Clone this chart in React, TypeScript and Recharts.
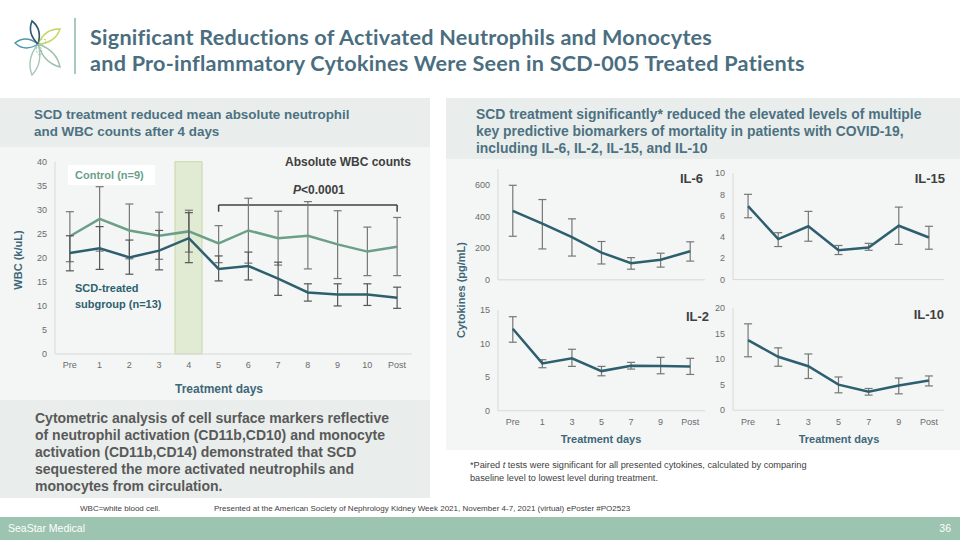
import React from "react";
import {
  ComposedChart,
  LineChart,
  Line,
  Bar,
  XAxis,
  YAxis,
  ErrorBar,
  ReferenceLine,
} from "recharts";

// WBC counts, control vs SCD-treated subgroup
const wbcDays = ["Pre", "1", "2", "3", "4", "5", "6", "7", "8", "9", "10", "Post"];
const controlMean = [24.5, 28.1, 25.7, 24.6, 25.5, 23.0, 25.7, 24.1, 24.6, 22.8, 21.3, 22.3];
const controlLow = [19.2, 21.4, 19.8, 19.7, 21.2, 19.0, 18.9, 18.5, 17.7, 15.7, 16.3, 16.3];
const controlHigh = [29.6, 34.8, 31.2, 29.5, 29.9, 26.7, 32.4, 29.7, 31.7, 29.8, 26.4, 28.4];
const scdMean = [21.0, 22.0, 20.1, 21.5, 24.1, 17.7, 18.3, 15.7, 12.8, 12.4, 12.4, 11.7];
const scdLow = [17.3, 17.6, 16.6, 17.5, 19.0, 15.2, 15.4, 12.2, 11.0, 10.0, 10.1, 9.5];
const scdHigh = [24.6, 26.5, 23.7, 25.7, 29.4, 20.4, 21.2, 19.1, 14.6, 14.6, 14.6, 13.9];
const wbcTicks = [0, 5, 10, 15, 20, 25, 30, 35, 40];
const highlightDay = "4";
const bracketFrom = "5";
const bracketTo = "Post";
const bracketY = 31;
const bracketFoot = 29.6;

// cytokines, SCD-treated patients
const cytoDays = ["Pre", "1", "3", "5", "7", "9", "Post"];
const il6Mean = [435, 355, 270, 172, 105, 127, 180];
const il6Low = [275, 195, 150, 100, 67, 80, 118];
const il6High = [597, 507, 385, 242, 140, 168, 240];
const il15Mean = [6.9, 3.8, 5.0, 2.75, 3.0, 5.05, 3.95];
const il15Low = [5.8, 3.1, 3.6, 2.35, 2.75, 3.3, 2.85];
const il15High = [8.0, 4.4, 6.4, 3.2, 3.4, 6.8, 5.0];
const il2Mean = [12.2, 7.05, 7.8, 5.9, 6.7, 6.65, 6.6];
const il2Low = [10.2, 6.4, 6.6, 5.2, 6.2, 5.5, 5.4];
const il2High = [14.0, 7.6, 9.15, 6.6, 7.2, 7.95, 7.8];
const il10Mean = [13.7, 10.45, 8.6, 5.0, 3.6, 4.85, 5.8];
const il10Low = [10.45, 8.6, 6.2, 3.4, 2.95, 3.2, 4.75];
const il10High = [16.9, 12.2, 11.0, 6.5, 4.25, 6.3, 6.7];

const INK = {
  title: "#4a6e7f",
  header: "#4d7182",
  body: "#595959",
  dark: "#404040",
  axisTitle: "#3f6777",
  control: "#6c9f88",
  scd: "#2e5f6f",
  err: "#777777",
  axis: "#d9d9d9",
  tick: "#6b6b6b",
  band: "#e9eeec",
  panel: "#f3f6f5",
  footer: "#9dc3b1",
};

const sans = "'Liberation Sans', Arial, sans-serif";

const wbcMax = wbcTicks[wbcTicks.length - 1];
const wbcData = wbcDays.map((day, i) => ({
  day,
  control: controlMean[i],
  controlErr: [controlMean[i] - controlLow[i], controlHigh[i] - controlMean[i]],
  scd: scdMean[i],
  scdErr: [scdMean[i] - scdLow[i], scdHigh[i] - scdMean[i]],
  highlight: day === highlightDay ? wbcMax : null,
}));

function cytoRows(mean: number[], low: number[], high: number[]) {
  return cytoDays.map((day, i) => ({
    day,
    v: mean[i],
    err: [mean[i] - low[i], high[i] - mean[i]],
  }));
}

type CytoProps = {
  rows: ReturnType<typeof cytoRows>;
  left: number;
  top: number;
  right: number;
  bottom: number;
  max: number;
  ticks: number[];
  showX: boolean;
};

function CytoChart({ rows, left, top, right, bottom, max, ticks, showX }: CytoProps) {
  const padL = 40;
  const padT = 6;
  const padR = 6;
  const xh = showX ? 24 : 12;
  const pad = (right - left) / 14;
  return (
    <div style={{ position: "absolute", left: left - padL, top: top - padT }}>
      <LineChart
        width={right - left + padL + padR}
        height={bottom - top + padT + xh}
        data={rows}
        margin={{ top: padT, right: padR, left: 10, bottom: 0 }}
      >
        <XAxis
          dataKey="day"
          interval={0}
          padding={{ left: pad, right: pad }}
          tickLine={false}
          axisLine={{ stroke: INK.axis }}
          tick={showX ? { fontSize: 9, fill: INK.tick, fontFamily: sans } : false}
          height={xh}
        />
        <YAxis
          domain={[0, max]}
          ticks={ticks}
          interval={0}
          width={30}
          tickLine={false}
          axisLine={{ stroke: INK.axis }}
          tick={{ fontSize: 9, fill: INK.tick, fontFamily: sans }}
        />
        <Line
          dataKey="v"
          stroke={INK.scd}
          strokeWidth={2.5}
          dot={false}
          isAnimationActive={false}
        >
          <ErrorBar dataKey="err" width={4} stroke={INK.err} strokeWidth={1.2} />
        </Line>
      </LineChart>
    </div>
  );
}

function Text({ x, y, children, style }: { x: number; y: number; children: React.ReactNode; style?: React.CSSProperties }) {
  return (
    <div style={{ position: "absolute", left: x, top: y, whiteSpace: "nowrap", ...style }}>
      {children}
    </div>
  );
}

function petal(cx: number, cy: number, tx: number, ty: number, w: number) {
  const dx = tx - cx;
  const dy = ty - cy;
  const len = Math.hypot(dx, dy);
  const nx = (-dy / len) * w;
  const ny = (dx / len) * w;
  const mx = cx + dx * 0.55;
  const my = cy + dy * 0.55;
  return `M${cx},${cy} Q${mx + nx},${my + ny} ${tx},${ty} Q${mx - nx},${my - ny} ${cx},${cy} Z`;
}

function Logo() {
  const cx = 38;
  const cy = 44;
  return (
    <svg width={70} height={80} style={{ position: "absolute", left: 0, top: 0 }}>
      <path d={petal(cx, cy, 60, 29, 9)} fill="none" stroke="#c3d55c" strokeWidth={1.4} />
      <path d={petal(cx, cy, 60, 67, 9)} fill="none" stroke="#9dbfae" strokeWidth={1.4} />
      <path d={petal(cx, cy, 32, 75, 9)} fill="none" stroke="#a6c6b8" strokeWidth={1.4} />
      <path d={petal(cx, cy, 15, 43, 9)} fill="none" stroke="#4f98a9" strokeWidth={1.4} />
      <path d={petal(cx, cy, 32, 21, 8)} fill="none" stroke="#2e5b70" strokeWidth={1.6} />
      <path d={petal(cx, cy, 46, 40, 5)} fill="none" stroke="#b7cf63" strokeWidth={1} strokeDasharray="2 1.5" />
      <path d={petal(cx, cy, 40, 56, 5)} fill="none" stroke="#9dbfae" strokeWidth={1} strokeDasharray="2 1.5" />
    </svg>
  );
}

export default function App() {
  const headStyle: React.CSSProperties = {
    fontFamily: sans,
    fontWeight: 700,
    fontSize: 13.9,
    lineHeight: "17px",
    color: INK.header,
  };
  const titleStyle: React.CSSProperties = {
    fontFamily: "Lato, 'Open Sans', sans-serif",
    fontWeight: 700,
    fontSize: 21.6,
    letterSpacing: 0.25,
    lineHeight: "26px",
    color: INK.title,
  };
  return (
    <div
      style={{
        position: "absolute",
        left: 0,
        top: 0,
        width: 960,
        height: 540,
        overflow: "hidden",
        background: "#ffffff",
        fontFamily: sans,
      }}
    >
      <Logo />
      <div style={{ position: "absolute", left: 74, top: 18, width: 1.5, height: 56, background: "#a9c9bb" }} />
      <Text x={90} y={24} style={titleStyle}>
        Significant Reductions of Activated Neutrophils and Monocytes
      </Text>
      <Text x={90} y={50} style={titleStyle}>
        and Pro-inflammatory Cytokines Were Seen in SCD-005 Treated Patients
      </Text>

      {/* left panel */}
      <div style={{ position: "absolute", left: 0, top: 98, width: 430, height: 49, background: INK.band }} />
      <div style={{ position: "absolute", left: 0, top: 147, width: 430, height: 253, background: INK.panel }} />
      <div style={{ position: "absolute", left: 0, top: 400, width: 430, height: 98, background: INK.band }} />
      <Text x={34} y={105.5} style={{ ...headStyle, fontSize: 13.4 }}>
        SCD treatment reduced mean absolute neutrophil
        <br />
        and WBC counts after 4 days
      </Text>

      <div style={{ position: "absolute", left: 0, top: 145 }}>
        <ComposedChart
          width={432}
          height={255}
          data={wbcData}
          margin={{ top: 16.7, right: 20, left: 25, bottom: 10 }}
        >
          <XAxis
            dataKey="day"
            interval={0}
            tickLine={false}
            axisLine={{ stroke: INK.axis }}
            tick={{ fontSize: 9, fill: INK.tick, fontFamily: sans }}
            height={36}
          />
          <YAxis
            domain={[0, wbcMax]}
            ticks={wbcTicks}
            interval={0}
            width={30}
            tickLine={false}
            axisLine={{ stroke: INK.axis }}
            tick={{ fontSize: 9, fill: INK.tick, fontFamily: sans }}
          />
          <Bar
            dataKey="highlight"
            barSize={27}
            fill="#e1ead3"
            stroke="#c6d8a8"
            isAnimationActive={false}
          />
          <ReferenceLine
            segment={[{ x: bracketFrom, y: bracketY }, { x: bracketTo, y: bracketY }]}
            stroke={INK.dark}
            strokeWidth={1.5}
          />
          <ReferenceLine
            segment={[{ x: bracketFrom, y: bracketY }, { x: bracketFrom, y: bracketFoot }]}
            stroke={INK.dark}
            strokeWidth={1.5}
          />
          <ReferenceLine
            segment={[{ x: bracketTo, y: bracketY }, { x: bracketTo, y: bracketFoot }]}
            stroke={INK.dark}
            strokeWidth={1.5}
          />
          <Line
            dataKey="control"
            stroke={INK.control}
            strokeWidth={2.5}
            dot={false}
            isAnimationActive={false}
          >
            <ErrorBar dataKey="controlErr" width={4} stroke={INK.err} strokeWidth={1.2} />
          </Line>
          <Line
            dataKey="scd"
            stroke={INK.scd}
            strokeWidth={2.5}
            dot={false}
            isAnimationActive={false}
          >
            <ErrorBar dataKey="scdErr" width={4} stroke="#555555" strokeWidth={1.2} />
          </Line>
        </ComposedChart>
      </div>

      <div style={{ position: "absolute", left: 68, top: 165, width: 87, height: 20, background: "#ffffff" }} />
      <Text x={75} y={168} style={{ fontWeight: 700, fontSize: 11, lineHeight: "14px", color: INK.control }}>
        Control (n=9)
      </Text>
      <Text x={75} y={280} style={{ fontWeight: 700, fontSize: 11, lineHeight: "16px", color: INK.scd }}>
        SCD-treated
        <br />
        subgroup (n=13)
      </Text>
      <Text x={285} y={155} style={{ fontWeight: 700, fontSize: 12, lineHeight: "14px", color: INK.dark }}>
        Absolute WBC counts
      </Text>
      <Text x={293} y={183} style={{ fontWeight: 700, fontSize: 12, lineHeight: "14px", color: INK.dark }}>
        <i>P</i>&lt;0.0001
      </Text>
      <Text
        x={18}
        y={260}
        style={{ fontWeight: 700, fontSize: 11, color: INK.axisTitle, transform: "translate(-50%, -50%) rotate(-90deg)" }}
      >
        WBC (k/uL)
      </Text>
      <Text x={219} y={389} style={{ fontWeight: 700, fontSize: 12, color: INK.axisTitle, transform: "translate(-50%, -50%)" }}>
        Treatment days
      </Text>

      <Text x={35} y={409.5} style={{ ...headStyle, fontSize: 14, color: INK.body }}>
        Cytometric analysis of cell surface markers reflective
        <br />
        of neutrophil activation (CD11b,CD10) and monocyte
        <br />
        activation (CD11b,CD14) demonstrated that SCD
        <br />
        sequestered the more activated neutrophils and
        <br />
        monocytes from circulation.
      </Text>

      {/* right panel */}
      <div style={{ position: "absolute", left: 446, top: 98, width: 514, height: 61, background: INK.band }} />
      <div style={{ position: "absolute", left: 446, top: 159, width: 514, height: 291, background: INK.panel }} />
      <Text x={476} y={105.5} style={headStyle}>
        SCD treatment significantly* reduced the elevated levels of multiple
        <br />
        key predictive biomarkers of mortality in patients with COVID-19,
        <br />
        including IL-6, IL-2, IL-15, and IL-10
      </Text>

      <CytoChart rows={cytoRows(il6Mean, il6Low, il6High)} left={498} top={168.5} right={705} bottom={279.3} max={700} ticks={[0, 200, 400, 600]} showX={false} />
      <CytoChart rows={cytoRows(il15Mean, il15Low, il15High)} left={733} top={172.7} right={944} bottom={279.3} max={10} ticks={[0, 2, 4, 6, 8, 10]} showX={false} />
      <CytoChart rows={cytoRows(il2Mean, il2Low, il2High)} left={498} top={310} right={705} bottom={410.7} max={15} ticks={[0, 5, 10, 15]} showX={true} />
      <CytoChart rows={cytoRows(il10Mean, il10Low, il10High)} left={733} top={308.3} right={944} bottom={410.5} max={20} ticks={[0, 5, 10, 15, 20]} showX={true} />

      {[
        { t: "IL-6", r: 703, y: 178 },
        { t: "IL-15", r: 945, y: 178 },
        { t: "IL-2", r: 709, y: 316 },
        { t: "IL-10", r: 944, y: 314 },
      ].map((l) => (
        <Text key={l.t} x={l.r} y={l.y} style={{ fontWeight: 700, fontSize: 13, color: INK.dark, transform: "translate(-100%, -50%)" }}>
          {l.t}
        </Text>
      ))}
      <Text
        x={461}
        y={290}
        style={{ fontWeight: 700, fontSize: 11, color: INK.axisTitle, transform: "translate(-50%, -50%) rotate(-90deg)" }}
      >
        Cytokines (pg/mL)
      </Text>
      <Text x={601} y={439} style={{ fontWeight: 700, fontSize: 11, color: INK.axisTitle, transform: "translate(-50%, -50%)" }}>
        Treatment days
      </Text>
      <Text x={839} y={439} style={{ fontWeight: 700, fontSize: 11, color: INK.axisTitle, transform: "translate(-50%, -50%)" }}>
        Treatment days
      </Text>

      <Text x={470} y={458.5} style={{ fontSize: 9.2, lineHeight: "13px", color: INK.dark }}>
        *Paired <i>t</i> tests were significant for all presented cytokines, calculated by comparing
        <br />
        baseline level to lowest level during treatment.
      </Text>

      <Text x={80} y={503} style={{ fontSize: 8, lineHeight: "12px", color: INK.dark }}>
        WBC=white blood cell.
      </Text>
      <Text x={214} y={503} style={{ fontSize: 8, lineHeight: "12px", color: INK.dark }}>
        Presented at the American Society of Nephrology Kidney Week 2021, November 4-7, 2021 (virtual) ePoster #PO2523
      </Text>

      <div style={{ position: "absolute", left: 0, top: 517, width: 960, height: 23, background: INK.footer }} />
      <Text x={8} y={521} style={{ fontSize: 10.5, lineHeight: "15px", color: "#ffffff" }}>
        SeaStar Medical
      </Text>
      <Text x={951} y={521} style={{ fontSize: 10.5, lineHeight: "15px", color: "#ffffff", transform: "translateX(-100%)" }}>
        36
      </Text>
    </div>
  );
}
